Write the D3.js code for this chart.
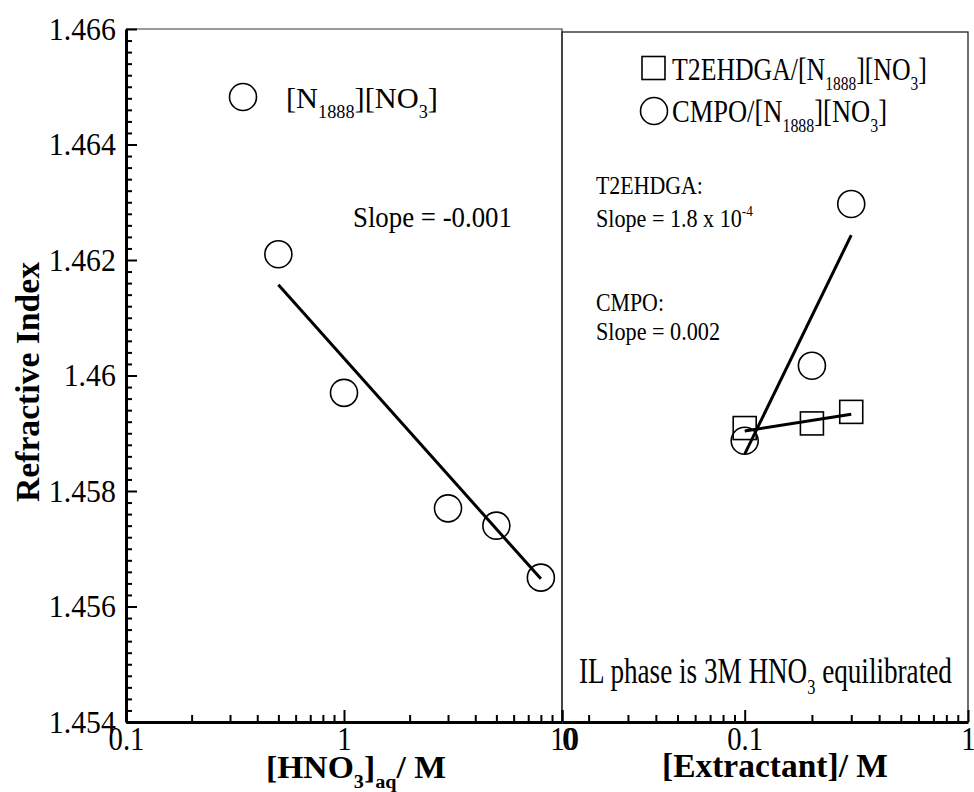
<!DOCTYPE html>
<html>
<head>
<meta charset="utf-8">
<script src="https://cdn.jsdelivr.net/npm/d3@7"></script>
<style>
  body { margin: 0; background: #fff; }
  svg { display: block; }
  svg text { font-family: "Liberation Serif", "Times New Roman", serif; white-space: pre; }
</style>
</head>
<body>
<div id="chart"></div>
<script>
// Left panel: refractive index vs aqueous HNO3
const hno3 = [0.5, 1, 3, 5, 8];
const riHno3 = [1.4621, 1.4597, 1.4577, 1.4574, 1.4565];
const hno3Fit = [[0.5, 1.46157], [8, 1.45648]];

// Right panel: refractive index vs extractant concentration
const extractant = [0.1, 0.2, 0.3];
const riT2ehdga = [1.45909, 1.45917, 1.45937];
const riCmpo = [1.45887, 1.46017, 1.46297];
const t2ehdgaFit = [[0.1, 1.45904], [0.3, 1.45933]];
const cmpoFit = [[0.1, 1.45864], [0.3, 1.46243]];

// tick values and labels
const yMajor = [1.454, 1.456, 1.458, 1.46, 1.462, 1.464, 1.466];
const yLabels = ["1.454", "1.456", "1.458", "1.46", "1.462", "1.464", "1.466"];
const xLeftMajor = [0.1, 1, 10];
const xLeftLabels = ["0.1", "1", "10"];
const xLeftMinor = [0.2, 0.3, 0.4, 0.5, 0.6, 0.7, 0.8, 0.9, 2, 3, 4, 5, 6, 7, 8, 9];
const xRightMajor = [0.0152, 0.1, 1];
const xRightLabels = ["0", "0.1", "1"];
const xRightMinor = [0.02, 0.03, 0.04, 0.05, 0.06, 0.07, 0.08, 0.09, 0.2, 0.3, 0.4, 0.5, 0.6, 0.7, 0.8, 0.9];

const width = 974;
const height = 792;
const plotTop = 29;
const plotBottom = 722;
const leftX0 = 126, split = 562, rightX1 = 968;

const xL = d3.scaleLog().domain([0.1, 10]).range([leftX0, split]);
const xR = d3.scaleLog().domain([0.0152, 1]).range([split, rightX1]);
const y = d3.scaleLinear().domain([1.454, 1.466]).range([plotBottom, plotTop]);

const svg = d3.select("#chart").append("svg")
    .attr("width", width)
    .attr("height", height)
    .attr("viewBox", [0, 0, width, height]);

// panel frames
svg.append("path")
    .attr("d", `M${leftX0},${plotTop}H${split}V${plotBottom}`)
    .attr("fill", "none").attr("stroke", "#333").attr("stroke-width", 1.2);
svg.append("rect")
    .attr("x", split).attr("y", 32)
    .attr("width", rightX1 - split).attr("height", plotBottom - 32)
    .attr("fill", "none").attr("stroke", "#222").attr("stroke-width", 1.3);

// y axis, inward ticks
const yMinor = d3.range(0, 61).filter(i => i % 10 !== 0).map(i => 1.454 + i * 0.0002);
svg.append("g")
    .attr("transform", `translate(${leftX0},0)`)
    .call(d3.axisLeft(y).tickValues(yMinor).tickSize(-6).tickSizeOuter(0).tickFormat(""))
    .call(g => g.select(".domain").remove())
    .call(g => g.selectAll(".tick line").attr("stroke-width", 2));
svg.append("g")
    .attr("transform", `translate(${leftX0},0)`)
    .call(d3.axisLeft(y).tickValues(yMajor).tickSize(-11).tickSizeOuter(0).tickPadding(11)
        .tickFormat((d, i) => yLabels[i]))
    .call(g => g.select(".domain").attr("stroke-width", 3))
    .call(g => g.selectAll(".tick line").attr("stroke-width", 2))
    .call(g => g.selectAll(".tick text")
        .style("font-size", "32px")
        .attr("fill", "#000")
        .attr("transform", "scale(0.93,1)"));

// x axes, inward ticks; shifts nudge labels where the two panels meet
function xAxis(scale, major, labels, minor, shifts) {
    svg.append("g")
        .attr("transform", `translate(0,${plotBottom})`)
        .call(d3.axisBottom(scale).tickValues(minor).tickSize(-7).tickSizeOuter(0).tickFormat(""))
        .call(g => g.select(".domain").remove())
        .call(g => g.selectAll(".tick line").attr("stroke-width", 2));
    svg.append("g")
        .attr("transform", `translate(0,${plotBottom})`)
        .call(d3.axisBottom(scale).tickValues(major).tickSize(-12).tickSizeOuter(0).tickPadding(5)
            .tickFormat((d, i) => labels[i]))
        .call(g => g.select(".domain").attr("stroke-width", 3))
        .call(g => g.selectAll(".tick line").attr("stroke-width", 2))
        .call(g => g.selectAll(".tick text")
            .style("font-size", "33px")
            .attr("fill", "#000")
            .attr("transform", (d, i) => `translate(${shifts[i]},0) scale(0.87,1)`));
}
xAxis(xL, xLeftMajor, xLeftLabels, xLeftMinor, [0, 0, 2]);
xAxis(xR, xRightMajor, xRightLabels, xRightMinor, [7, 0, 0]);

// text with sub/superscripts, squeezed to a target width
function label(x, yy, parts, size, w, opts = {}) {
    const g = svg.append("g");
    const t = g.append("text")
        .style("font-size", size + "px")
        .style("font-weight", opts.bold ? "bold" : null)
        .attr("text-anchor", opts.anchor || "start");
    let shift = 0;
    parts.forEach(p => {
        const [str, kind] = Array.isArray(p) ? p : [p, null];
        const off = kind === "sub" ? size * 0.32 : kind === "sup" ? -size * 0.42 : 0;
        t.append("tspan")
            .attr("dy", off - shift)
            .style("font-size", kind ? size * 0.6 + "px" : null)
            .text(str);
        shift = off;
    });
    const sx = w / t.node().getComputedTextLength();
    g.attr("transform", `translate(${x},${yy})${opts.rotate ? ` rotate(${opts.rotate})` : ""} scale(${sx},1)`);
}

// axis titles
label(39, 382, ["Refractive Index"], 34, 240, { bold: true, anchor: "middle", rotate: -90 });
label(266, 778, ["[HNO", ["3", "sub"], "]", ["aq", "sub"], "/ M"], 32, 180, { bold: true });
label(662, 777, ["[Extractant]/ M"], 34, 226, { bold: true });

// fit lines
const line = (sx) => d3.line().x(d => sx(d[0])).y(d => y(d[1]));
svg.append("path").datum(hno3Fit).attr("d", line(xL))
    .attr("fill", "none").attr("stroke", "#000").attr("stroke-width", 3);
svg.append("path").datum(t2ehdgaFit).attr("d", line(xR))
    .attr("fill", "none").attr("stroke", "#000").attr("stroke-width", 3);
svg.append("path").datum(cmpoFit).attr("d", line(xR))
    .attr("fill", "none").attr("stroke", "#000").attr("stroke-width", 3);

// markers
const r = 13.5, sq = 23;
svg.append("g").selectAll("circle").data(hno3).join("circle")
    .attr("cx", d => xL(d)).attr("cy", (d, i) => y(riHno3[i])).attr("r", r)
    .attr("fill", "none").attr("stroke", "#000").attr("stroke-width", 1.6);
svg.append("g").selectAll("rect").data(extractant).join("rect")
    .attr("x", d => xR(d) - sq / 2).attr("y", (d, i) => y(riT2ehdga[i]) - sq / 2)
    .attr("width", sq).attr("height", sq)
    .attr("fill", "none").attr("stroke", "#000").attr("stroke-width", 1.6);
svg.append("g").selectAll("circle").data(extractant).join("circle")
    .attr("cx", d => xR(d)).attr("cy", (d, i) => y(riCmpo[i])).attr("r", r)
    .attr("fill", "none").attr("stroke", "#000").attr("stroke-width", 1.6);

// left legend and annotation
svg.append("circle").attr("cx", 243).attr("cy", 97).attr("r", r)
    .attr("fill", "none").attr("stroke", "#000").attr("stroke-width", 1.6);
label(286, 108, ["[N", ["1888", "sub"], "][NO", ["3", "sub"], "]"], 30, 152);
label(353, 227, ["Slope = -0.001"], 30, 159);

// right legend
svg.append("rect").attr("x", 653.5 - sq / 2).attr("y", 68 - sq / 2).attr("width", sq).attr("height", sq)
    .attr("fill", "none").attr("stroke", "#000").attr("stroke-width", 1.6);
svg.append("circle").attr("cx", 654).attr("cy", 111).attr("r", r)
    .attr("fill", "none").attr("stroke", "#000").attr("stroke-width", 1.6);
label(672, 80, ["T2EHDGA/[N", ["1888", "sub"], "][NO", ["3", "sub"], "]"], 32, 255);
label(672, 122, ["CMPO/[N", ["1888", "sub"], "][NO", ["3", "sub"], "]"], 32, 215);

// right annotations
label(596, 194, ["T2EHDGA:"], 26, 107);
label(596, 227, ["Slope = 1.8 x 10", ["-4", "sup"]], 26, 157);
label(596, 311, ["CMPO:"], 26, 68);
label(596, 340, ["Slope = 0.002"], 26, 124);
label(579, 683, ["IL phase is 3M HNO", ["3", "sub"], " equilibrated"], 35, 373);
</script>
</body>
</html>
